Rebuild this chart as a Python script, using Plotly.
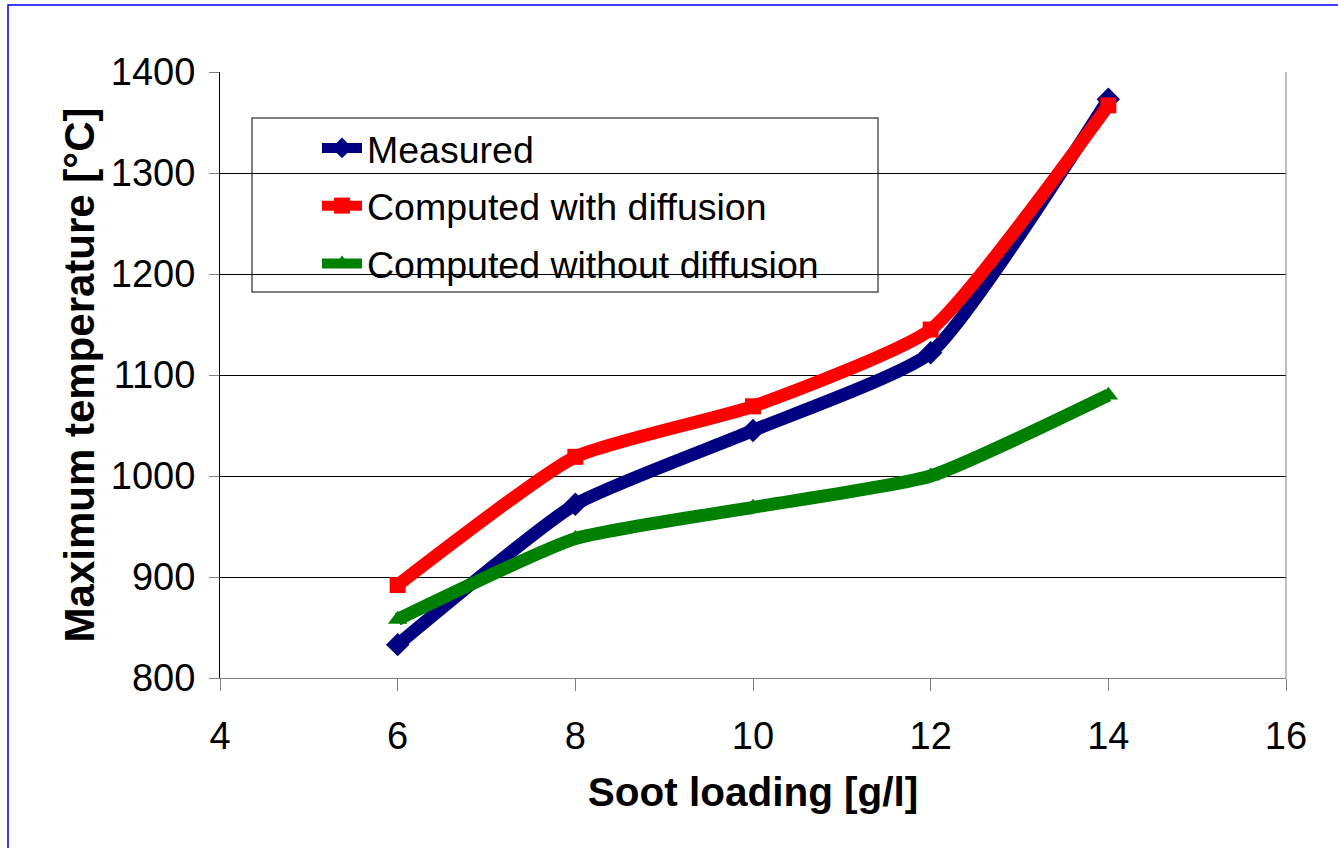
import plotly.graph_objects as go

# Soot loading [g/l] and peak temperatures [°C]
soot_loading = [6, 8, 10, 12, 14]
measured = [833, 972, 1045, 1122, 1373]
computed_with_diffusion = [892, 1019, 1069, 1145, 1367]
computed_without_diffusion = [858, 938, 969, 1000, 1080]

W, H = 1338, 848
L, R, T, B = 220, 52, 72, 170
pw, ph = W - L - R, H - T - B

def px_x(p):
    return (p - L) / pw

def px_y(p):
    return (H - B - p) / ph

FONT = "Liberation Sans, Arial, sans-serif"

fig = go.Figure()
series = [
    ("Measured", measured, "#000080", "diamond", 18),
    ("Computed with diffusion", computed_with_diffusion, "#ff0000", "square", 16),
    ("Computed without diffusion", computed_without_diffusion, "#008000", "triangle-up", 17),
]
for i, (name, vals, color, sym, msize) in enumerate(series):
    fig.add_trace(go.Scatter(
        x=soot_loading, y=vals, name=name, mode="lines+markers",
        legendgroup=f"g{i}",
        line=dict(color=color, width=13, shape="spline", smoothing=0.5),
        marker=dict(symbol=sym, size=msize, color=color),
    ))

fig.update_layout(
    width=W, height=H,
    margin=dict(l=L, r=R, t=T, b=B, autoexpand=False),
    paper_bgcolor="white", plot_bgcolor="white",
    font=dict(family=FONT, size=37.5, color="black"),
    showlegend=True,
    legend=dict(
        x=px_x(317), y=px_y(117), xanchor="left", yanchor="top",
        bgcolor="rgba(0,0,0,0)", borderwidth=0,
        font=dict(family=FONT, size=37.5, color="black"),
        itemwidth=40, tracegroupgap=6,
    ),
    xaxis=dict(
        range=[4, 16], tickvals=[4, 6, 8, 10, 12, 14, 16],
        showgrid=False, zeroline=False,
        showline=True, linecolor="#808080", linewidth=1, mirror=False,
        ticks="outside", ticklen=12, tickcolor="#808080",
        ticklabelstandoff=12,
        tickfont=dict(size=38),
        title=dict(text="<b>Soot loading [g/l]</b>", font=dict(size=40.5), standoff=22),
    ),
    yaxis=dict(
        range=[800, 1400], tickvals=[800, 900, 1000, 1100, 1200, 1300, 1400],
        showgrid=True, gridcolor="black", gridwidth=1, zeroline=False,
        showline=True, linecolor="black", linewidth=1,
        ticks="outside", ticklen=10, tickcolor="#808080",
        ticklabelstandoff=6,
        tickfont=dict(size=38),
        title=dict(text="<b>Maximum temperature [°C]</b>", font=dict(size=42), standoff=3),
    ),
    shapes=[
        # plot frame (right edge)
        dict(type="line", xref="paper", yref="paper", x0=1, x1=1, y0=0, y1=1,
             line=dict(color="#808080", width=1)),
        # legend box
        dict(type="rect", xref="paper", yref="paper",
             x0=px_x(252), x1=px_x(878), y0=px_y(292), y1=px_y(118),
             line=dict(color="#555555", width=1.5), fillcolor="white", layer="below"),
        # outer border of the chart area
        dict(type="rect", xref="paper", yref="paper",
             x0=px_x(8), x1=px_x(1400), y0=px_y(900), y1=px_y(5),
             line=dict(color="#0000ff", width=1.5)),
    ],
)

fig.write_html("out.html")
